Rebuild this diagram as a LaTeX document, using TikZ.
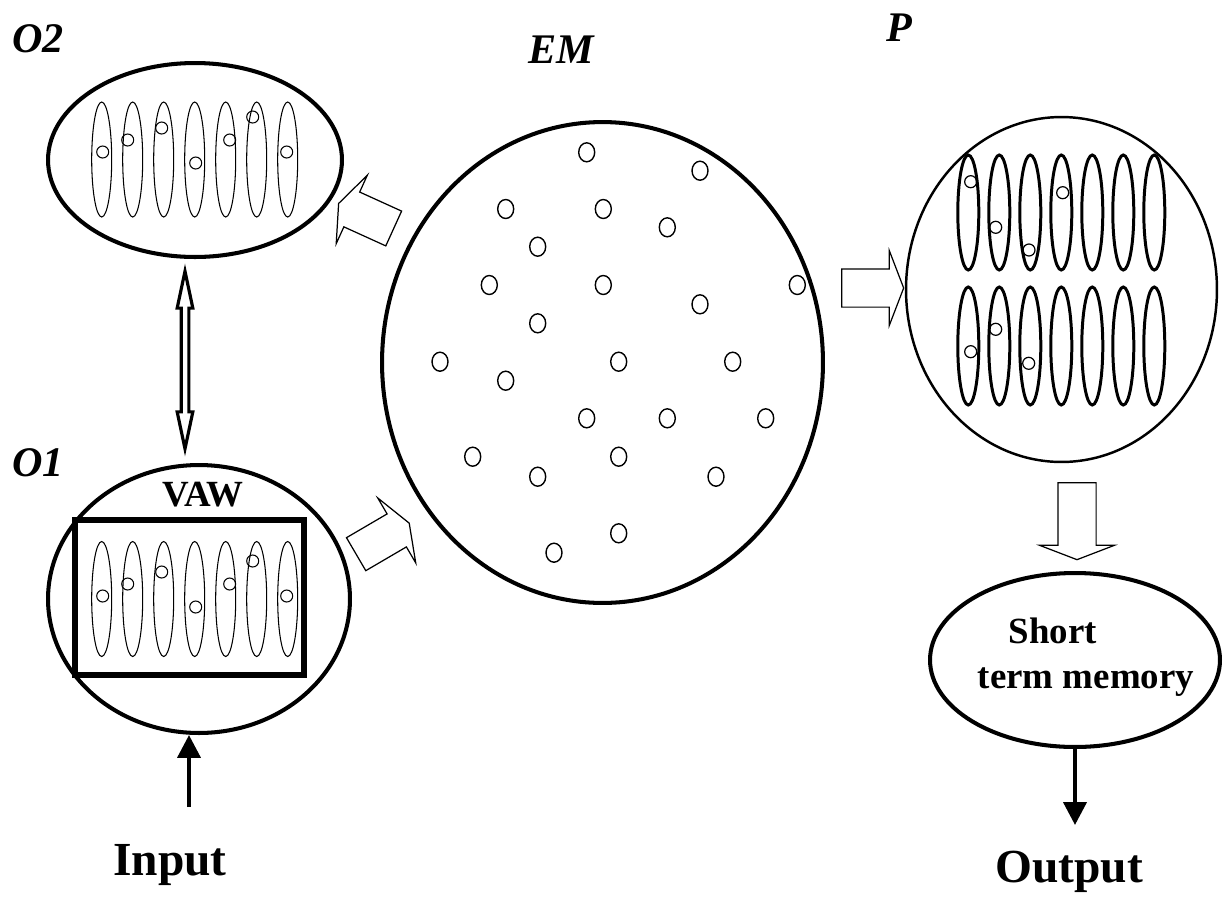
\documentclass[tikz,border=0pt]{standalone}
\usepackage{fontspec}
\setmainfont{Liberation Serif}
\usetikzlibrary{shapes.geometric,shapes.arrows,arrows.meta}
\tikzset{
	region/.style={draw, ellipse, line width=2.3pt, inner sep=0pt},
	cell/.style={line width=0.6pt},
	dot/.style={line width=0.7pt},
	title/.style={font=\fontsize{24}{28}\selectfont\bfseries\itshape},
	lab/.style={font=\fontsize{21}{25}\selectfont\bfseries},
	biglab/.style={font=\fontsize{27}{32}\selectfont\bfseries},
	thinarrow/.style={line width=2.3pt, -{Triangle[length=13pt, width=13pt]}},
	blockarrow/.style={draw, single arrow, line width=0.7pt, inner xsep=0pt, inner ysep=0.37cm,
		minimum height=#1, single arrow head extend=0.37cm,
		single arrow tip angle=138, allow upside down},
	twinarrow/.style={draw, double arrow, line width=1.8pt, inner xsep=0pt, inner ysep=0.045cm,
		minimum height=3.55cm, double arrow head extend=0.08cm,
		double arrow tip angle=24, allow upside down},
}
\begin{document}
\begin{tikzpicture}[x=0.02cm, y=-0.02cm]
		\useasboundingbox (0,0) rectangle (1225,897);
		%
		\node[region, minimum width=5.88cm, minimum height=3.88cm] (o2) at (195,160) {};
		\node[region, minimum width=6.04cm, minimum height=5.36cm] (o1) at (199,599) {};
		\node[region, minimum width=8.82cm, minimum height=9.62cm] (em) at (602.5,362.5) {};
		\node[region, line width=1.4pt, minimum width=6.22cm, minimum height=6.9cm] (p) at (1061.5,289.5) {};
		\node[region, minimum width=5.8cm, minimum height=3.48cm] (stm) at (1075,660) {};
		\node[draw, line width=3.4pt, minimum width=4.58cm, minimum height=3.1cm] (vawbox) at (189.5,597.5) {};
		%
		\node[title] (lo2) at (38,39) {O2};
		\node[title] (lo1) at (38,463) {O1};
		\node[title] (lem) at (561,50) {EM};
		\node[title] (lp) at (899,28) {P};
		\node[lab] (lvaw) at (203,495) {VAW};
		\node[lab, anchor=base] (ls) at (1053,643) {Short};
		\node[lab, anchor=base] (ltm) at (1086,688) {term memory};
		\node[biglab, anchor=base] (lin) at (170,875) {Input};
		\node[biglab, anchor=base] (lout) at (1069,882) {Output};
		%
		\foreach \cy/\dc in {159.5/0, 599/4.5} {   % cells of O2 and O1
			\foreach \i/\dx/\dy in {0/1/-7.5, 1/-5/-19.5, 2/-2/-31.5, 3/1/3.5, 4/4/-19.5, 5/-4/-42.5, 6/-1/-7.5} {
				\draw[cell] (101.7+31*\i,\cy) ellipse [x radius=10, y radius=57.5];
				\draw[dot, line width=0.6pt] (101.7+31*\i+\dx,\cy+\dy+\dc) circle [radius=6];
			}
		}
		\foreach \i in {0,...,6} {   % cells of P
			\draw[line width=1.7pt] (968.3+31*\i,212.5) ellipse [x radius=10.5, y radius=57.5];
			\draw[line width=1.7pt] (968.3+31*\i,346) ellipse [x radius=10.5, y radius=59];
		}
		\foreach \x/\y in {970.7/181.7, 995.7/227.3, 1029/250, 1062.7/192.7,
			995.7/329.3, 970.7/351.7, 1028.7/363.3}
		\draw[dot] (\x,\y) circle [radius=6];
		%
		\foreach \x/\y in {586.7/152.3, 700/170.7, 505.7/209, 603.3/209, 667.3/227.3,
			537.7/246.7, 489.3/285, 603.3/285, 797.3/285, 700/304.3, 537.7/323.3,
			440/361.7, 618.7/361.7, 732.7/361.7, 505.7/380.7, 586.7/418.3,
			667.3/418.3, 765.7/418.3, 472.7/456.7, 618.7/456.7, 537.7/476.7,
			716/476.7, 618.7/533.3, 554/552.7}
		\draw[dot, line width=0.8pt] (\x,\y) ellipse [x radius=8, y radius=9.5];
		%
		\coordinate (u1) at (397,230); \coordinate (u2) at (342,205);
		\coordinate (l1) at (353,556); \coordinate (l2) at (406,525);
		\coordinate (r1) at (838,288); \coordinate (r2) at (900,288);
		\coordinate (d1) at (1077,479); \coordinate (d2) at (1077,556);
		\coordinate (dua) at (185,450); \coordinate (dub) at (185,270);
		\coordinate (inp) at (189,807); \coordinate (outp) at (1075,825);
		%
		\path (u1) -- (u2) node[midway, sloped, blockarrow=1.21cm] (aem) {};
		\path (l1) -- (l2) node[midway, sloped, blockarrow=1.23cm] (ao1) {};
		\path (r1) -- (r2) node[midway, sloped, blockarrow=1.24cm] (ap) {};
		\path (d1) -- (d2) node[midway, sloped, blockarrow=1.54cm] (astm) {};
		\path (dua) -- (dub) node[midway, sloped, twinarrow] (ao) {};
		%
		\draw[thinarrow] (inp) -- (inp |- o1.south);
		\draw[thinarrow] (stm.south) -- (outp);
\end{tikzpicture}
\end{document}
